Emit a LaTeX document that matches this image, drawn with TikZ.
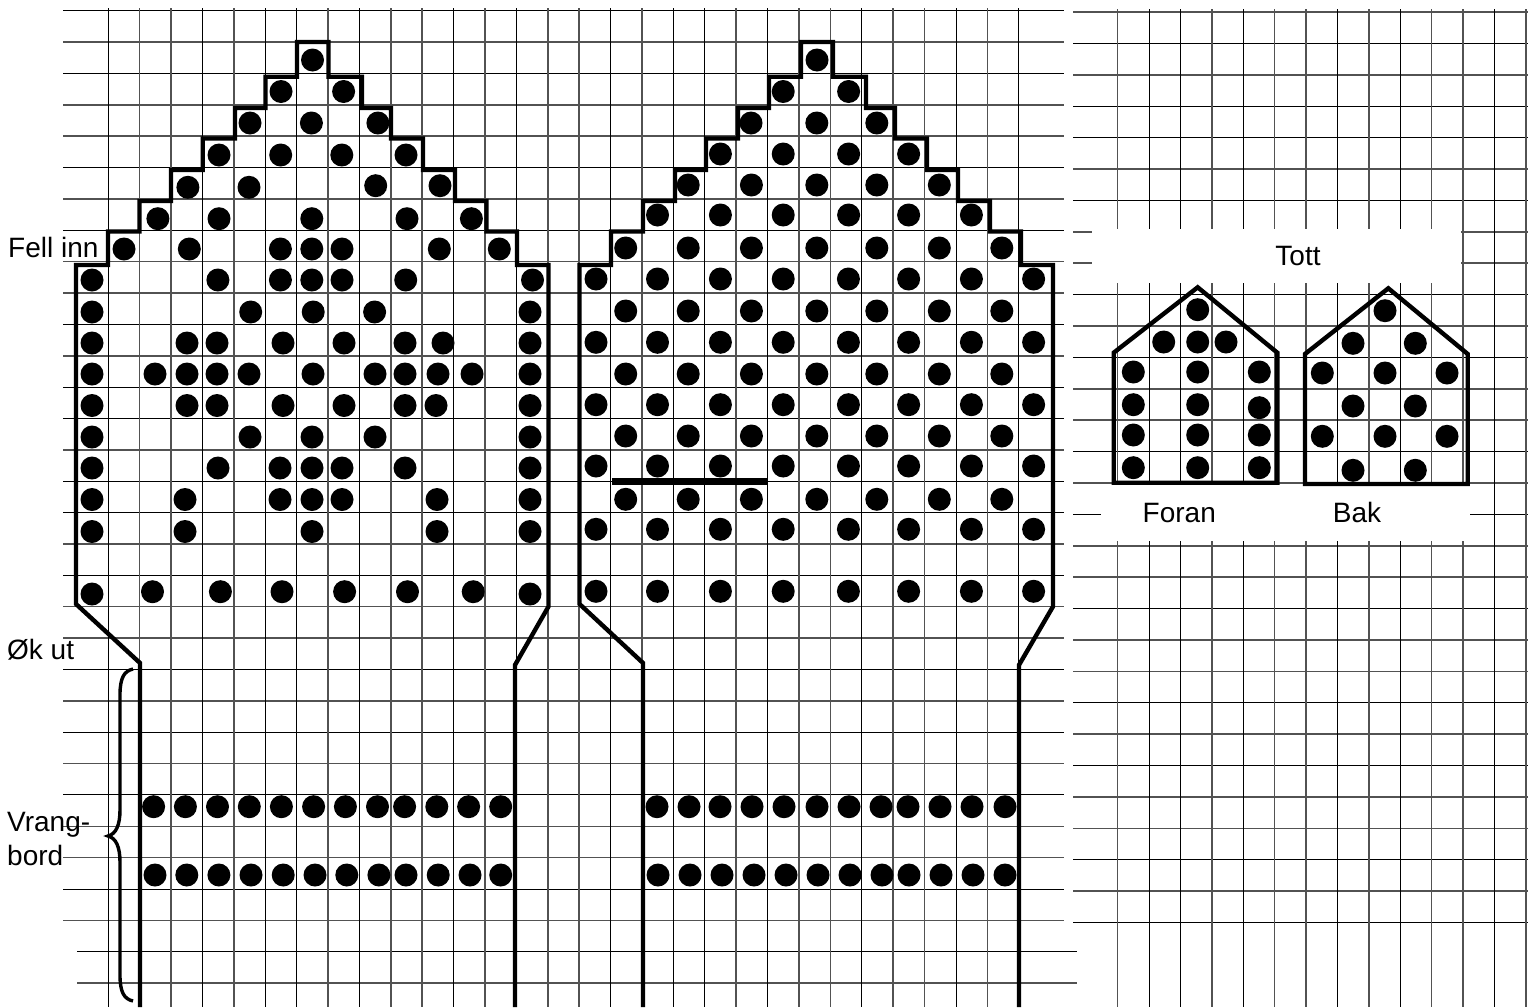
\documentclass[tikz,border=0pt]{standalone}
\usepackage{fontspec}
\setmainfont{Liberation Sans}
\newcommand{\rowlong}{596,657.5,720.4,783.2,848.4,908.6,971.4,1033.6}
\newcommand{\rowshort}{625.7,688.2,751.4,816.8,876.8,939.3,1001.8}
\tikzset{
  griddark/.style={color=black,line width=1pt},
  gridgray/.style={color=black!68,line width=1.5pt},
  outline/.style={color=black,line width=4.4pt},
  every node/.style={font=\fontsize{28}{32}\selectfont,inner sep=0pt}
}
\begin{document}
\begin{tikzpicture}[line cap=butt,line join=miter,x=1pt,y=-1pt]
\useasboundingbox (0,0) rectangle (1528,1007);
\fill[white] (0,0) rectangle (1528,1007);
% hands, grid
\foreach \k in {0,2,5,7,10,12,13,15,16,18,21,23,25,28}
  \draw[griddark] (63,10.7+31.37*\k)-- (1064,10.7+31.37*\k);
\foreach \k in {1,3,4,6,8,9,11,14,17,19,20,22,24,26,27,29}
  \draw[gridgray] (63,10.7+31.37*\k)-- (1064,10.7+31.37*\k);
\draw[griddark] (77,951.8)-- (1076.7,951.8);
\draw[gridgray] (77,983)-- (1076.7,983);
\foreach \i in {0,3,5,6,8,11,13,16,18,19,21,24,27,29}
  \draw[griddark] (108.2+31.4*\i,8)-- (108.2+31.4*\i,1007);
\foreach \i in {1,2,4,7,9,10,12,14,15,17,20,22,23,25,26,28}
  \draw[gridgray] (108.2+31.4*\i,8)-- (108.2+31.4*\i,1007);
% thumb, grid
\foreach \k in {1,3,4,6,9,11,14,16,19,22,24,27,29}
  \draw[griddark] (1073,12+31.4*\k)-- (1528,12+31.4*\k);
\foreach \k in {0,2,5,7,8,10,12,13,15,17,18,20,21,23,25,26,28}
  \draw[gridgray] (1073,12+31.4*\k)-- (1528,12+31.4*\k);
\foreach \j in {1,2,4,7,9,12}
  \draw[griddark] (1117.7+31.4*\j,9.3)-- (1117.7+31.4*\j,1007);
\foreach \j in {0,3,5,6,8,10,11,13}
  \draw[gridgray] (1117.7+31.4*\j,9.3)-- (1117.7+31.4*\j,1007);
\fill[white] (1092,228.7) rectangle (1461,283);
\fill[white] (1101,484) rectangle (1470,541);
% left hand
\draw[outline] (140,1007)-- (140,663)-- (76,604)-- (76,265)-- (108,265)-- (108,231.5)-- (139.5,231.5)-- (139.5,201)-- (171,201)-- (171,170)-- (202.7,170)-- (202.7,138.5)-- (235,138.5)-- (235,108)-- (265.5,108)-- (265.5,76.7)-- (297,76.7)-- (297,42)-- (328.5,42)-- (328.5,76.7)-- (362,76.7)-- (362,108)-- (391,108)-- (391,138.5)-- (423,138.5)-- (423,170)-- (455,170)-- (455,201)-- (486.5,201)-- (486.5,231.5)-- (517,231.5)-- (517,265)-- (548.5,265)-- (548.5,606.5)-- (515,665)-- (515,1007);
% right hand
\draw[outline] (643,1007)-- (643,663)-- (579.5,604)-- (579.5,265)-- (611,265)-- (611,231.5)-- (643,231.5)-- (643,201)-- (675,201)-- (675,170)-- (706,170)-- (706,138.5)-- (738,138.5)-- (738,108)-- (769,108)-- (769,76.7)-- (801,76.7)-- (801,42)-- (833,42)-- (833,76.7)-- (866,76.7)-- (866,108)-- (895,108)-- (895,138.5)-- (927,138.5)-- (927,170)-- (958,170)-- (958,201)-- (990,201)-- (990,231.5)-- (1021,231.5)-- (1021,265)-- (1053,265)-- (1053,606.5)-- (1019,665)-- (1019,1007);
\draw[color=black,line width=7pt] (612,481.7)-- (767,481.7);
% thumb shapes
\draw[outline] (1113.7,482.7)-- (1113.7,352.7)-- (1197.7,287.3)-- (1277.3,352.7)-- (1277.3,482.7)-- cycle;
\draw[outline] (1305,484)-- (1305,354)-- (1388.3,288.3)-- (1467.7,354)-- (1467.7,484)-- cycle;
% brace
\draw[color=black,line width=3.4pt] (133,669) .. controls (124,671) and (120,678) .. (120,695)-- (120,810) .. controls (120,825) and (116,834) .. (108,836) .. controls (116,838) and (120,847) .. (120,862)-- (120,975) .. controls (120,992) and (124,999) .. (133,1001);
% left hand dots
\foreach \y/\xs in {60/{312.5},91.5/{281,343.6},123/{250,311.4,377.9},155/{219,280.7,341.8,406},187.3/{187.9,249},185.7/{375.7,440},218.7/{157.9,219,311.8,407,471.4},249/{124,189.3,280.4,311.8,342,439.3,499.3},280/{92,217.9,280.4,311.8,342,405.7,532.5},312/{92,250.7,313.2,374.6,530},343/{92,187,217,283,344,405,443,530},374/{92,155,187,217,249,313,375,405,438,472,530},405.5/{92,187,217,283,344,405,436,530},437/{92,250,312,375,530},468/{92,218,280,312,342,405,530},499.5/{92,185,280,312,342,437,530},531.5/{92,185,312,437,530},591.7/{152.5,220.4,282,344.6,407.5,473.2},594/{92,530},806.7/{153.6,185.4,217.5,249.3,281.4,313.6,345.4,377.5,404.6,436.8,468.6,500.7},875/{155,186.8,218.9,251,283.2,315,346.8,378.9,406,438.2,470,500.7}}
  \foreach \x in \xs
    \fill (\x,\y) circle (11.5pt);
% right hand dots
\foreach \y/\xs in {60/{817},91.5/{783.2,848.6},123/{751,816.8,876.8},154/{720.4,783.2,848.6,908.6},185/{688.2,751.4,816.8,876.8,939.3},215/{657.5,720.4,783.2,848.6,908.6,971.4},806.7/{657,689,720,752,784,817,849,881,908,940,972,1005},875/{658,690,722,754,786,818,850,882,909,941,973,1005}}
  \foreach \x in \xs
    \fill (\x,\y) circle (11.5pt);
\foreach \y in {248,311,374,436,499.3}
  \foreach \x in \rowshort
    \fill (\x,\y) circle (11.5pt);
\foreach \y in {279,342.3,404.7,466,529.3,591.3}
  \foreach \x in \rowlong
    \fill (\x,\y) circle (11.5pt);
% thumb dots
\foreach \x/\y in {1133.3/372,1133.3/404.7,1133.3/435,1133.3/467.7,1197.7/309.7,1163.7/342,1197.7/342,1226/342,1197.7/372,1197.7/404.7,1197.7/435,1197.7/467.7,1259.3/372,1259.3/407.7,1259.3/435,1259.3/467.7,1385/310.7,1353/343.3,1415.3/343.3,1322.3/373,1385/373,1447/373,1353/406,1415.3/406,1322.3/436.3,1385/436.3,1447/436.3,1353/470.3,1415.3/470.3}
  \fill (\x,\y) circle (11.5pt);
% labels
\draw[color=black] (8,247) node[anchor=west] (fellinn) {Fell inn};
\draw[color=black] (7,650) node[anchor=west] (okut) {Øk ut};
\draw[color=black] (7,825) node[anchor=west] (vrang) {Vrang-};
\draw[color=black] (7,855) node[anchor=west] (bord) {bord};
\draw[color=black] (1298,255.7) node (tott) {Tott};
\draw[color=black] (1179.3,512.7) node (foran) {Foran};
\draw[color=black] (1357,512.7) node (bak) {Bak};
\end{tikzpicture}
\end{document}
